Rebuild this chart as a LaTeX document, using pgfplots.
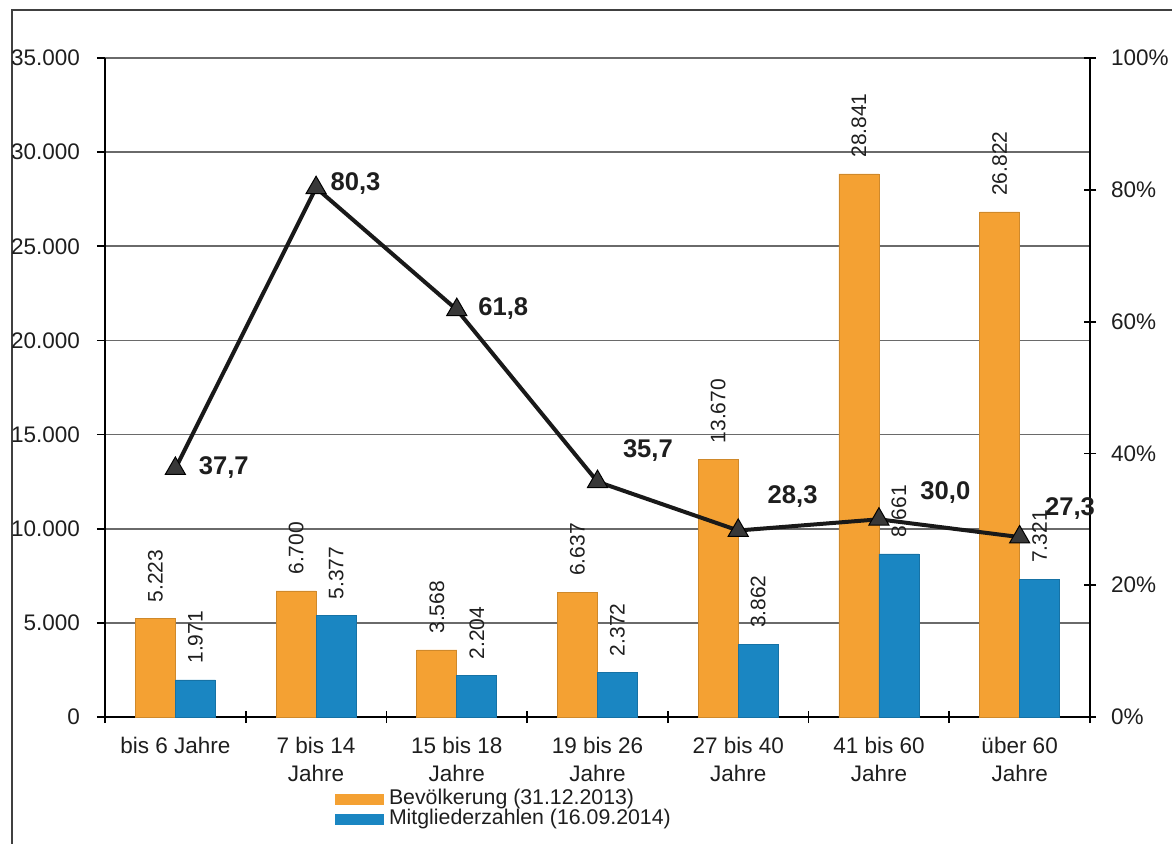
\documentclass[border=0pt]{standalone}
\usepackage{pgfplots}
\usepackage{pgfplotstable}
\pgfplotsset{compat=1.18}
\usepackage{fontspec}
\setmainfont{Liberation Sans}

\definecolor{bevorange}{HTML}{F4A133}
\definecolor{mitgblau}{HTML}{1A86C2}
\definecolor{txt}{HTML}{1E1E1E}
\definecolor{gridgray}{HTML}{6A6A6A}

% Einwohner und Mitglieder je Altersgruppe
\pgfplotstableread{
x bev mit
0 5223 1971
1 6700 5377
2 3568 2204
3 6637 2372
4 13670 3862
5 28841 8661
6 26822 7321
}\altersdaten

% Mitgliederanteil in Prozent, dazu Versatz der Beschriftung (pt)
\pgfplotstableread{
x anteil dx dy
0 37.7 11.5 0.5
1 80.3 7 2
2 61.8 10.5 0.5
3 35.7 12.5 15.5
4 28.3 14.5 17
5 30.0 20.5 13.5
6 27.3 12.5 14.5
}\anteildaten

\begin{document}
\begin{tikzpicture}[x=1pt,y=1pt]
\path[use as bounding box] (0,0) rectangle (586,421.5);
% Rahmen
\draw[line width=1.3pt, black!75] (6,-2) -- (6,416.5) -- (600,416.5);

\begin{axis}[
  at={(52.5pt,63pt)}, anchor=south west,
  scale only axis, width=492.5pt, height=329.5pt,
  xmin=-0.5, xmax=6.5, ymin=0, ymax=35000,
  axis x line*=bottom, axis y line*=left,
  axis line style={black, line width=0.9pt},
  ybar=0pt, bar width=20pt,
  xtick={0,...,6},
  xticklabels={{bis 6 Jahre},{7 bis 14\\Jahre},{15 bis 18\\Jahre},{19 bis 26\\Jahre},{27 bis 40\\Jahre},{41 bis 60\\Jahre},{über 60\\Jahre}},
  major x tick style={draw=none},
  minor xtick={-0.5,0.5,...,6.5},
  minor x tick style={black, line width=0.9pt},
  minor tick length=6pt,
  xtick align=center,
  xticklabel style={align=center, font=\fontsize{11.25}{14}\selectfont, text=txt, yshift=-4.5pt},
  ytick={0,5000,...,35000},
  ytick align=outside, major tick length=4pt,
  major y tick style={black, line width=0.9pt},
  scaled y ticks=false,
  /pgf/number format/.cd, 1000 sep={.}, assume math mode=true,
  /pgfplots/.cd,
  yticklabel style={font=\fontsize{11.25}{13}\selectfont, text=txt, xshift=-5pt},
  ymajorgrids,
  grid style={gridgray, line width=0.9pt},
  nodes near coords,
  every node near coord/.append style={rotate=90, anchor=west, inner xsep=8pt, inner ysep=0pt,
    font=\fontsize{10.5}{12}\selectfont, text=txt},
  legend style={at={(rel axis cs:0.2335,-0.108)}, anchor=north west, draw=none, fill=none,
    inner sep=0pt, font=\fontsize{10.65}{11}\selectfont, text=txt, row sep=-0.5pt,
    nodes={inner sep=0pt, text height=8pt, text depth=2.5pt}},
  legend cell align=left,
  /tikz/every odd column/.append style={column sep=2.5pt},
]
\addplot[fill=bevorange, draw=bevorange!85!black, line width=0.3pt,
  legend image code/.code={\fill[bevorange] (0pt,-2.6pt) rectangle (24pt,2.6pt);}]
  table[x=x, y=bev] {\altersdaten};
\addlegendentry{Bevölkerung (31.12.2013)}
\addplot[fill=mitgblau, draw=mitgblau!85!black, line width=0.3pt,
  legend image code/.code={\fill[mitgblau] (0pt,-2.6pt) rectangle (24pt,2.6pt);}]
  table[x=x, y=mit] {\altersdaten};
\addlegendentry{Mitgliederzahlen (16.09.2014)}
\end{axis}

\begin{axis}[
  at={(52.5pt,63pt)}, anchor=south west,
  scale only axis, width=492.5pt, height=329.5pt,
  xmin=-0.5, xmax=6.5, ymin=0, ymax=100,
  axis x line=none, axis y line*=right,
  axis line style={black, line width=0.9pt},
  ytick={0,20,...,100},
  ytick align=center, major tick length=6pt,
  major y tick style={black, line width=0.9pt},
  /pgf/number format/assume math mode=true,
  yticklabel={\pgfmathprintnumber{\tick}\%},
  yticklabel style={font=\fontsize{11.25}{13}\selectfont, text=txt, xshift=4pt},
  clip=false,
]
\addplot[black!90, line width=2pt,
  mark=triangle*, mark size=5.8pt,
  mark options={fill=black!78, draw=black, line width=0.5pt},
  visualization depends on={\thisrow{dx} \as \labeldx},
  visualization depends on={\thisrow{dy} \as \labeldy},
  nodes near coords={\pgfmathprintnumber[fixed, fixed zerofill, precision=1, use comma]{\pgfplotspointmeta}},
  every node near coord/.append style={anchor=west, inner sep=0pt,
    xshift=\labeldx, yshift=\labeldy,
    font=\bfseries\fontsize{12.8}{14}\selectfont, text=txt},
] table[x=x, y=anteil] {\anteildaten};
\end{axis}
\end{tikzpicture}
\end{document}
